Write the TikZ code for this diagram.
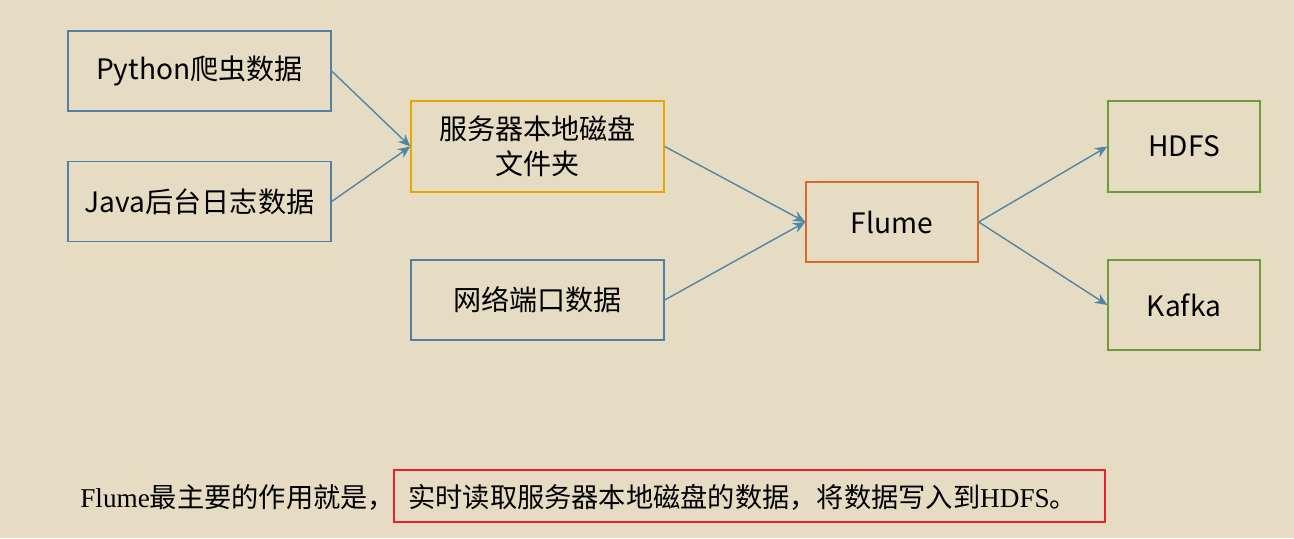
\documentclass[tikz,border=0pt]{standalone}
\usepackage{fontspec}
\setmainfont{Liberation Serif}
\newfontfamily\cjk{Noto Sans CJK SC}
\usetikzlibrary{arrows.meta}
\definecolor{bg}{HTML}{E5DCC3}
\definecolor{bl}{HTML}{4F81A4}
\definecolor{yl}{HTML}{E8A700}
\definecolor{org}{HTML}{D9692A}
\definecolor{grn}{HTML}{6E9A3C}
\definecolor{arr}{HTML}{4F86A8}
\definecolor{rd}{HTML}{E8232A}
\begin{document}
\begin{tikzpicture}[x=0.02cm,y=-0.02cm,
  box/.style={draw=bl,line width=0.8pt,minimum width=5.26cm,minimum height=1.6cm,align=center,font=\cjk\fontsize{16}{20}\selectfont,inner sep=0pt},
  conn/.style={arr,line width=0.8pt,-{Stealth[length=7pt,width=6pt]}}]
\fill[bg] (0,0) rectangle (1294,538);
\useasboundingbox (0,0) rectangle (1294,538);
\node[box] (py) at (199.5,71) {Python爬虫数据};
\node[box] (ja) at (199.5,201.5) {Java后台日志数据};
\node[box,draw=yl,minimum width=5.06cm,minimum height=1.82cm] (srv) at (537.5,146.5) {服务器本地磁盘\\文件夹};
\node[box,minimum width=5.06cm] (net) at (537.5,300) {网络端口数据};
\node[box,draw=org,minimum width=3.44cm] (fl) at (892,222) {Flume};
\node[box,draw=grn,minimum width=3.04cm,minimum height=1.82cm] (hd) at (1184,146.5) {HDFS};
\node[box,draw=grn,minimum width=3.04cm,minimum height=1.8cm] (kf) at (1184,305) {Kafka};
\draw[conn] (py.east) -- (srv.west);
\draw[conn] (ja.east) -- (srv.west);
\draw[conn] (srv.east) -- (fl.west);
\draw[conn] (net.east) -- (fl.west);
\draw[conn] (fl.east) -- (hd.west);
\draw[conn] (fl.east) -- (kf.west);
\node[draw=rd,line width=1.6pt,minimum width=14.22cm,minimum height=1.04cm,inner sep=0pt] (rb) at (749.5,496) {};
\node[anchor=west,inner sep=0pt,font=\fontsize{15.5}{18}\selectfont] (tx) at (80,497) {Flume{\cjk 最主要的作用就是，}};
\node[anchor=west,inner sep=0pt,font=\fontsize{15.5}{18}\selectfont] (tx2) at (408,497) {{\cjk 实时读取服务器本地磁盘的数据，将数据写入到}HDFS{\cjk 。}};
\end{tikzpicture}
\end{document}
